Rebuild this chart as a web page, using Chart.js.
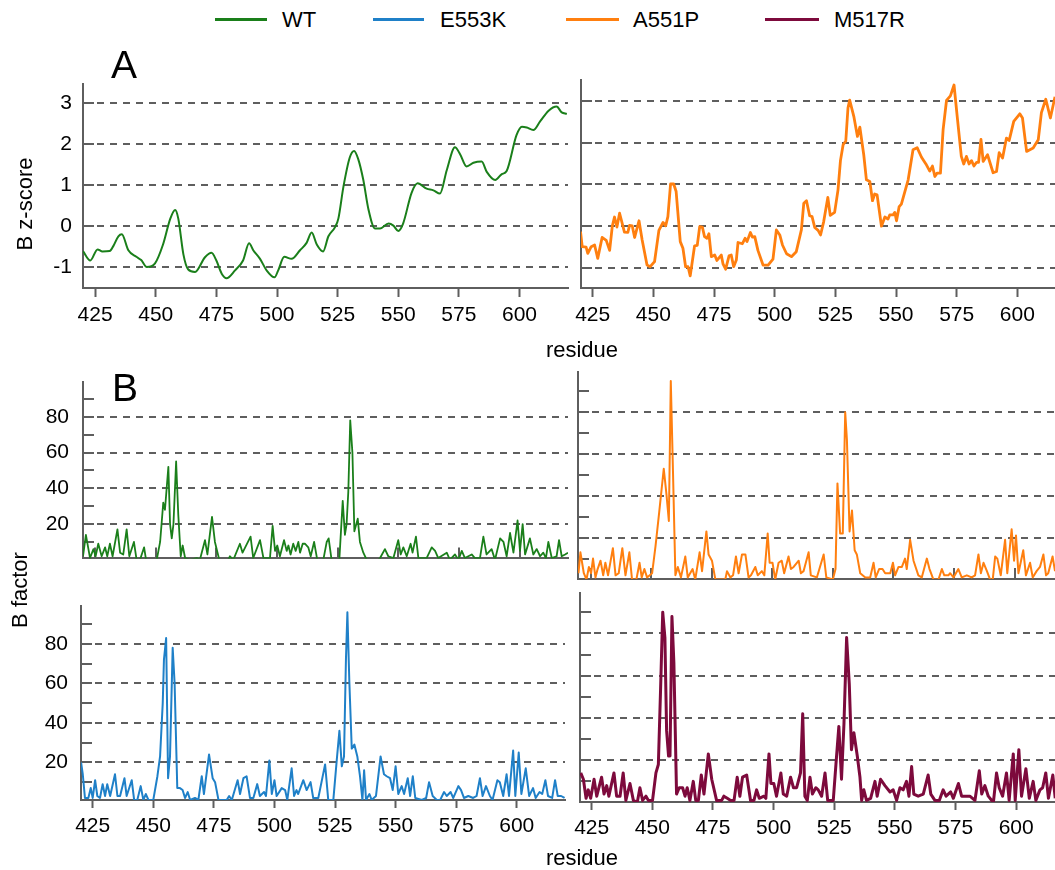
<!DOCTYPE html>
<html><head><meta charset="utf-8">
<script src="https://cdn.jsdelivr.net/npm/chart.js@4.4.1/dist/chart.umd.min.js"></script>
<style>
html,body{margin:0;padding:0;background:#fff;width:1055px;height:870px;overflow:hidden;position:relative;font-family:'Liberation Sans',Arial,sans-serif;}
canvas{position:absolute;}
.t{position:absolute;font-size:22px;line-height:22px;color:#000;white-space:nowrap;}
.ln{position:absolute;height:3px;}
.big{position:absolute;font-size:39px;line-height:39px;color:#000;}
</style></head><body>
<canvas id="cA1" width="575" height="290" style="left:0;top:60px"></canvas>
<canvas id="cA2" width="495" height="290" style="left:560px;top:60px"></canvas>
<canvas id="cB1" width="575" height="230" style="left:0;top:355px"></canvas>
<canvas id="cB2" width="495" height="230" style="left:560px;top:355px"></canvas>
<canvas id="cB3" width="575" height="290" style="left:0;top:580px"></canvas>
<canvas id="cB4" width="495" height="290" style="left:560px;top:580px"></canvas>

<div class="ln" style="left:215px;top:18px;width:52px;background:#1a7f1a"></div><div class="t" style="left:282px;top:9px">WT</div>
<div class="ln" style="left:373px;top:18px;width:51px;background:#1f80c8"></div><div class="t" style="left:440px;top:9px">E553K</div>
<div class="ln" style="left:566px;top:18px;width:53px;background:#ff7f0f"></div><div class="t" style="left:633px;top:9px">A551P</div>
<div class="ln" style="left:765px;top:18px;width:54px;background:#7d0a3c"></div><div class="t" style="left:834px;top:9px">M517R</div>

<div class="big" style="left:111px;top:45px">A</div>
<div class="big" style="left:112px;top:368px">B</div>
<div class="t" style="left:25px;top:204px;transform:translate(-50%,-50%) rotate(-90deg)">B z-score</div>
<div class="t" style="left:20px;top:590px;transform:translate(-50%,-50%) rotate(-90deg)">B factor</div>
<div class="t" style="left:582px;top:339px;transform:translateX(-50%)">residue</div>
<div class="t" style="left:582px;top:847px;transform:translateX(-50%)">residue</div>

<script>
// ---- tick labels ----
const residueTicks = [425, 450, 475, 500, 525, 550, 575, 600];
const zTicks = [-1, 0, 1, 2, 3];
const bTicks = [20, 40, 60, 80];
const bMinorTicks = [10, 30, 50, 70, 90];

// ---- series: [residue, value] ----
const wtZscore = [[420,-0.60],[423,-0.83],[426,-0.56],[428,-0.61],[431,-0.60],[432.5,-0.48],[434.6,-0.24],[436,-0.19],[438.7,-0.58],[442,-0.74],[444,-0.82],[446.3,-0.99],[449.7,-0.90],[453,-0.44],[456,0.19],[458,0.40],[459.3,0.19],[461.4,-0.68],[463.4,-1.05],[466.2,-1.11],[470.3,-0.75],[473,-0.64],[475,-0.83],[477.2,-1.15],[479.2,-1.26],[482.7,-1.07],[486,-0.83],[488.5,-0.41],[490.2,-0.58],[493,-0.79],[495.7,-1.07],[499,-1.24],[500.5,-1.07],[503,-0.74],[506,-0.79],[509.5,-0.58],[512.2,-0.40],[514.3,-0.15],[516.4,-0.44],[519,-0.61],[521.2,-0.24],[524,-0.01],[525.3,0.19],[527.4,0.97],[530,1.68],[531.8,1.84],[533.5,1.64],[535.6,1.13],[537.7,0.42],[540.4,-0.05],[542.5,-0.05],[546,0.07],[548,0.02],[550,-0.11],[552,0.07],[555.5,0.82],[558,1.05],[561.7,0.92],[564.5,0.88],[567.2,0.80],[570,1.37],[573.4,1.93],[575.5,1.76],[578.2,1.46],[581,1.55],[584.4,1.58],[586.5,1.33],[590,1.13],[592.6,1.27],[594.7,1.35],[598.8,2.23],[601,2.43],[603,2.41],[605.7,2.35],[608.5,2.56],[612,2.82],[615.3,2.92],[617.4,2.78],[619.5,2.74]];

const a551pZscore = [[420,-0.13],[420.7,-0.49],[422.3,-0.5],[423,-0.65],[424.4,-0.49],[425.8,-0.45],[427.1,-0.77],[428.9,-0.27],[430.6,-0.34],[432,-0.58],[433.1,0],[434,0.22],[435,-0.02],[436.1,0.31],[438.1,-0.14],[439.5,-0.15],[440.2,0.02],[441.3,0.01],[442.3,-0.27],[444.1,0.13],[445.4,-0.33],[447.4,-0.93],[448.7,-0.97],[450.5,-0.85],[452.3,-0.10],[454,0.09],[455.1,0.01],[456,0.23],[457.1,1.01],[458.4,1.01],[459.4,0.83],[461.1,-0.37],[462.2,-0.53],[463.3,-0.97],[464.3,-0.97],[465.2,-1.19],[467,-0.47],[468.1,-0.46],[469.1,-0.01],[470.2,-0.02],[471.1,-0.25],[472.1,-0.29],[472.9,-0.18],[473.9,-0.73],[475.3,-0.69],[476.2,-0.82],[478,-0.69],[478.7,-0.90],[479.8,-1.03],[481.2,-0.71],[482.1,-0.69],[483.1,-0.97],[484.2,-0.81],[484.9,-0.39],[486.7,-0.42],[487.8,-0.29],[488.6,-0.37],[490,-0.15],[490.8,-0.26],[491.8,-0.25],[493.1,-0.58],[495.2,-0.93],[497.3,-0.93],[499.3,-0.79],[500.7,-0.09],[502.1,-0.21],[503.2,-0.45],[504.9,-0.66],[506.9,-0.73],[508.9,-0.61],[511,-0.09],[512,0.55],[513.1,0.61],[514.4,0.25],[515.4,0.23],[516.5,-0.03],[517.9,-0.10],[518.9,-0.21],[520.2,0.11],[521.9,0.69],[522.9,0.26],[524.7,0.33],[526.1,0.87],[527.1,1.57],[528.2,1.95],[529.3,2.04],[530.2,2.83],[530.9,3.02],[532.6,2.63],[534.1,2.15],[535.1,2.37],[536.7,1.71],[537.8,1.11],[539.2,1.07],[540.3,0.61],[541.2,0.77],[542.2,0.75],[544,0],[545.4,0.22],[546.7,0.17],[547.4,0.27],[548.8,0.27],[549.5,0.33],[550.2,0.13],[551.3,0.47],[552.2,0.53],[555,1.11],[557,1.83],[558.7,1.88],[560.5,1.65],[562.3,1.49],[563.9,1.32],[565,1.44],[566,1.19],[566.9,1.27],[568.3,1.27],[569.4,2.31],[570.8,3.01],[572.4,3.12],[573.9,3.38],[575.2,2.63],[576.9,1.67],[577.9,1.49],[579,1.67],[580.1,1.49],[581.1,1.57],[582.1,1.44],[583.2,1.53],[584,1.53],[585,2.08],[585.9,1.55],[587.7,1.71],[590,1.28],[591.4,1.31],[592.5,1.76],[593.9,1.63],[595.5,2.11],[596.6,2.05],[598.5,2.51],[601,2.69],[602.1,2.59],[603.8,1.79],[606.5,1.87],[608.6,2.07],[609.9,2.72],[611.7,3.04],[613.6,2.59],[615.5,3.10],[617,2.9]];

const wtBfactor = [[420,2],[421.2,14],[422.9,1],[424.3,6],[425.2,2],[426.3,9],[427.7,2],[429.1,7],[430,2],[431.1,9],[432.2,2],[434.2,17],[435.3,4],[436.6,3],[438,17],[439.1,2],[441,10],[442.1,0],[443.5,0],[445.2,7],[446,0],[450.4,0],[451.8,10],[453.1,32],[453.8,28],[454.5,40],[455.2,52],[455.9,20],[456.6,12],[457.3,20],[458.4,55],[459.3,25],[460.3,2],[461.1,8],[462.1,1],[464.1,0],[466.9,1],[468.2,0],[470.3,11],[471.3,3],[473.2,24],[474.4,10],[476.2,0],[479.9,0],[480.6,2],[482,0],[484.7,9],[485.8,4],[489.1,13],[490.2,1],[493,11],[494.4,1],[497.1,1],[498.2,19],[499.2,5],[500.1,8],[501.2,2],[502.9,11],[504,5],[504.7,8],[505.6,3],[506.7,9],[507.7,5],[508.8,10],[509.5,4],[510.6,9],[511.5,9],[512.9,7],[513.9,2],[515.3,10],[516.6,0],[519.1,0],[520.5,10],[521.3,12],[522.5,0],[525.7,0],[527.1,33],[528,14],[528.7,20],[529.4,38],[530.2,78],[531.1,60],[531.9,16],[533.3,23],[534.2,10],[535.6,4],[537,0],[541.8,0],[542.5,1],[544.5,6],[545.9,2],[548,1],[550,11],[551,3],[552.1,7],[553.5,2],[555.1,9],[555.9,4],[557.3,13],[558.3,1],[561.7,1],[563.8,7],[565.2,5],[566.5,1],[570,4],[571.3,0],[573.4,3],[574.8,0],[576.2,5],[577.5,1],[580.3,3],[581.6,1],[583.7,1],[585.1,13],[586.4,3],[588.5,6],[589.9,0],[592,12],[593.4,10],[594.7,2],[596.1,15],[597.5,4],[599.2,22],[600.2,5],[601.3,20],[602.3,3],[604.3,12],[605.7,3],[607.1,6],[608.5,2],[609.8,4],[610.9,1],[611.9,10],[613.3,1],[615.3,2],[616.3,11],[617.4,2],[618.8,3],[620,4]];

const a551pBfactor = [[420,3],[420.8,13],[422.2,3],[423.3,0],[424.3,6],[425.2,3],[426,10],[427,1],[427.9,5],[429.1,9],[430.2,2],[431.1,8],[432.2,2],[434.2,15],[435.3,2],[436.6,3],[438.1,15],[439.4,2],[441,13],[442.1,0],[443.9,0],[445.2,8],[446.1,1],[447.2,5],[448.3,1],[450.4,3],[451.8,16],[453.3,32],[455.2,53],[456.3,41],[457.3,28],[458.1,95],[459,52],[460,2],[461,6],[462.3,1],[464.1,11],[465.1,1],[467.1,5],[468.2,0],[470,13],[471,4],[472.8,23],[473.7,12],[475.1,9],[476.5,0],[480.6,0],[481.3,4],[482.7,1],[483.8,2],[485,11],[486.1,3],[487.5,12],[488.9,12],[490.2,1],[491.2,2],[493,6],[494,2],[495.7,4],[496.7,2],[498.1,22],[498.9,8],[500.1,8],[501.2,0],[502.6,8],[503.9,9],[504.9,3],[506.7,11],[507.7,5],[508.8,6],[510.9,9],[511.8,3],[512.9,4],[515,13],[515.9,2],[518.4,1],[521.2,12],[522.3,1],[525,0],[526.1,5],[526.9,46],[528,22],[529.1,22],[530.1,80],[530.8,67],[531.9,23],[532.9,33],[534,14],[534.9,12],[536.3,3],[538.4,1],[540.4,1],[541.8,8],[542.7,1],[544.1,5],[545.5,5],[546.6,3],[548.7,3],[549.8,8],[550.7,2],[552.1,6],[553.5,6],[554.8,10],[555.5,5],[556.9,19],[558.3,9],[560.3,2],[561.7,1],[563.8,10],[564.9,5],[566.5,0],[568.6,0],[570,5],[571,2],[572.7,2],[573.4,3],[574.8,1],[576.8,5],[578.2,1],[580.3,2],[582.3,1],[583.7,2],[585.1,12],[586.1,3],[587.2,8],[588.6,4],[589.9,0],[591,0],[592,11],[592.9,10],[594.3,2],[596.1,19],[597,3],[598.8,24],[599.8,9],[600.6,21],[601.6,3],[603.6,14],[604.7,2],[606.4,8],[607.5,1],[609.1,4],[610.5,6],[611.9,12],[613,2],[613.9,3],[615.7,11],[616.7,4]];

const e553kBfactor = [[420.2,20],[420.9,14],[421.8,2],[423.2,2],[424.2,7],[425,2],[426,11],[426.9,3],[428,2],[429.1,9],[430.1,3],[431,9],[432.2,3],[434.2,14],[435.2,3],[436.3,3],[438.1,12],[439,3],[441.1,11],[442.1,1],[443.4,1],[444.8,8],[445.9,1],[446.9,4],[448,1],[450,1],[451.7,13],[452.8,23],[453.9,50],[454.4,72],[455.3,83],[456.1,12],[456.9,23],[458,78],[458.8,60],[459.9,7],[461,7],[462.1,6],[463.1,2],[464.2,5],[465.2,1],[467.2,2],[468.6,1],[470,13],[470.9,4],[473,24],[474.5,12],[475.5,10],[476.9,1],[480.3,1],[481.3,3],[482.4,1],[484.8,11],[485.8,4],[487.2,12],[488.5,13],[489.9,2],[491.3,2],[492.9,9],[494,3],[495.7,5],[496.5,3],[497.9,21],[498.9,4],[500,11],[500.9,3],[503,7],[504.4,6],[505.3,1],[507.1,17],[508.1,3],[509.1,6],[509.8,4],[511.9,11],[513.3,6],[514.9,10],[516,2],[518.1,2],[520.9,19],[522.2,1],[524.3,1],[525.7,21],[526.8,36],[527.8,18],[528.7,23],[529.5,72],[530.1,96],[530.9,61],[531.9,27],[533,29],[534.2,23],[535.3,13],[536.3,1],[537,16],[537.8,1],[539.2,4],[540.1,1],[541.9,3],[543.8,23],[545.2,14],[546.3,13],[547.7,12],[548.8,6],[550,18],[551.1,4],[552.5,8],[553.5,4],[555,12],[556,3],[557.1,13],[558.1,2],[560.8,1],[562.6,2],[563.8,10],[565.3,3],[567,1],[568.4,1],[570,5],[571.1,3],[572.7,5],[573.8,2],[575.9,8],[577,6],[578.2,2],[580,3],[582,2],[583.4,3],[584.8,12],[585.9,3],[587.3,8],[588.9,3],[590,1],[592,11],[593,10],[594.4,3],[595.8,14],[596.8,3],[598.5,26],[599.4,3],[600.8,25],[601.9,4],[603.7,17],[605.1,3],[606.7,7],[607.8,2],[609.4,5],[610.5,4],[611.8,11],[612.9,3],[614.6,2],[615.8,11],[616.9,3],[618.3,3],[619.7,2]];

const m517rBfactor = [[420.5,14],[421.6,11],[422.7,2],[423.6,6],[424.6,2],[426,11],[427.1,3],[429.1,12],[430.1,4],[431.2,8],[432.1,3],[434.2,14],[435.3,3],[436.7,3],[438,14],[439.1,1],[440.8,9],[442.2,1],[443.8,0],[444.9,7],[446,1],[447.4,3],[448.4,1],[450.1,1],[451.5,14],[452.5,18],[453.4,53],[454.3,90],[455.2,78],[455.9,34],[456.7,22],[457.3,22],[458.1,88],[458.9,66],[460,4],[461.1,7],[462.5,7],[463.5,3],[464.4,7],[465.5,1],[466.9,10],[467.9,1],[469,1],[470.2,13],[471.3,4],[473.1,23],[474.5,11],[476.5,1],[478.6,1],[479.5,3],[480.9,2],[482.3,1],[483.7,1],[485,12],[486.1,3],[487.2,12],[488.9,13],[490.5,1],[491.9,1],[493,6],[494.1,2],[496,3],[496.8,2],[498.1,23],[498.9,9],[500.1,9],[501.2,3],[503,14],[504,4],[505.4,3],[507,12],[508.2,7],[509.5,7],[511.1,14],[512,42],[512.9,3],[513.9,1],[515,12],[516,4],[517.4,7],[518.4,6],[519.8,3],[521.2,14],[522.3,1],[524.6,1],[525.7,18],[526.9,36],[528,11],[529,37],[530.1,78],[531.2,56],[532.1,25],[533.1,33],[534.5,22],[535.6,12],[536.3,1],[537.2,6],[538.3,1],[540,2],[541.8,10],[542.7,3],[544.1,11],[545.9,8],[548,5],[549.3,6],[550.7,1],[552.1,7],[553.4,6],[554.8,10],[555.8,3],[556.9,17],[557.8,4],[559.6,3],[561.7,4],[563.7,13],[564.8,4],[566.5,1],[568.3,1],[569.9,6],[571.1,3],[573,5],[574.1,2],[576.2,9],[577.5,3],[578.9,3],[580.9,3],[583,1],[584.8,15],[585.8,4],[587.1,8],[588.5,3],[590.6,0],[591.9,14],[593,7],[594.4,3],[596,14],[597.1,1],[598.8,23],[599.6,1],[601.1,25],[602.2,3],[604,16],[605.4,2],[607,10],[608.1,1],[609.8,6],[610.9,7],[612.2,14],[613.3,2],[615.1,13],[616.1,2]];

// ---- colours ----
const C_WT = '#1a7f1a', C_E553K = '#1f80c8', C_A551P = '#ff7f0f', C_M517R = '#7d0a3c';
const AX = '#5e5e5e';

Chart.defaults.font.family = "'Liberation Sans', Arial, sans-serif";
Chart.defaults.font.size = 21;
Chart.defaults.color = '#000';

const innerTicks = {
  id: 'innerTicks',
  beforeDatasetsDraw(chart, args, opts) {
    const {ctx, chartArea, scales} = chart;
    ctx.save();
    ctx.strokeStyle = AX;
    ctx.lineWidth = 2;
    ctx.setLineDash([]);
    (opts.yv || []).forEach(v => {
      const py = Math.round(scales.y.getPixelForValue(v));
      ctx.beginPath(); ctx.moveTo(chartArea.left, py); ctx.lineTo(chartArea.left + opts.len, py); ctx.stroke();
    });
    (opts.xv || []).forEach(v => {
      const px = Math.round(scales.x.getPixelForValue(v));
      ctx.beginPath(); ctx.moveTo(px, chartArea.bottom); ctx.lineTo(px, chartArea.bottom - opts.len); ctx.stroke();
    });
    ctx.restore();
  }
};

function panel(id, c) {
  const datasets = c.series.map(s => ({
    data: s.data.map(p => ({x: p[0], y: p[1]})),
    borderColor: s.color, borderWidth: s.width, pointRadius: 0,
    tension: s.smooth ? 0.4 : 0,
    cubicInterpolationMode: s.smooth ? 'monotone' : 'default',
    fill: false, borderJoinStyle: 'round'
  }));
  new Chart(document.getElementById(id), {
    type: 'line',
    data: {datasets},
    options: {
      responsive: false, animation: false, devicePixelRatio: 1,
      layout: {padding: {top: c.padTop, right: c.padRight, left: 0, bottom: 0}},
      plugins: {
        legend: {display: false}, tooltip: {enabled: false},
        innerTicks: {yv: c.yTicks.concat(c.yMinor || []), xv: c.innerX ? residueTicks : [], len: 11}
      },
      scales: {
        x: {
          type: 'linear', min: c.xMin, max: c.xMax,
          afterBuildTicks: s => { s.ticks = residueTicks.map(v => ({value: v})); },
          afterFit: s => { s.height = c.xH; },
          ticks: {display: c.xLabels, padding: c.xPad || 6, maxRotation: 0, autoSkip: false, font: {size: 21}, color: '#000'},
          grid: {display: c.xLabels, drawOnChartArea: false, drawTicks: true, tickLength: c.xTL || 9, tickColor: AX, tickWidth: 2, color: AX},
          border: {display: true, color: AX, width: 2}
        },
        y: {
          min: c.yMin, max: c.yMax,
          afterBuildTicks: s => { s.ticks = c.yTicks.map(v => ({value: v})); },
          afterFit: s => { s.width = c.yW; },
          ticks: {display: c.yLabels, padding: c.yPad || 11, font: {size: 21}, color: '#000'},
          grid: {drawOnChartArea: true, drawTicks: false, color: AX, lineWidth: 2},
          border: {display: true, color: AX, width: 2, dash: [7, 6]}
        }
      }
    },
    plugins: [innerTicks]
  });
}

panel('cA1', {yW: 83, padTop: 17, padRight: 7, xH: 62, xMin: 420, xMax: 620, yMin: -1.5, yMax: 3.48,
  yTicks: zTicks, yLabels: true, yPad: 11, xLabels: true, xTL: 9, xPad: 6,
  series: [{data: wtZscore, color: C_WT, width: 2, smooth: true}]});
panel('cA2', {yW: 21, padTop: 20, padRight: 0, xH: 62, xMin: 420.2, xMax: 615.5, yMin: -1.48, yMax: 3.5,
  yTicks: zTicks, yLabels: false, xLabels: true, xTL: 9, xPad: 6,
  series: [{data: a551pZscore, color: C_A551P, width: 2.8}]});
panel('cB1', {yW: 83, padTop: 14, padRight: 7, xH: 5, xMin: 420, xMax: 620, yMin: 0.8, yMax: 99.7,
  yTicks: bTicks, yMinor: bMinorTicks, yLabels: true, yPad: 14, xLabels: false, innerX: true,
  series: [{data: wtBfactor, color: C_WT, width: 1.8}]});
panel('cB2', {yW: 18, padTop: 17, padRight: 0, xH: 6, xMin: 419.8, xMax: 616.7, yMin: 0.24, yMax: 99.3,
  yTicks: bTicks, yMinor: bMinorTicks, yLabels: false, xLabels: false, innerX: true,
  series: [{data: a551pBfactor, color: C_A551P, width: 2}]});
panel('cB3', {yW: 81, padTop: 8, padRight: 10, xH: 70, xMin: 420.17, xMax: 619.9, yMin: 0.97, yMax: 99.4,
  yTicks: bTicks, yMinor: bMinorTicks, yLabels: true, yPad: 13, xLabels: true, xTL: 8, xPad: 6,
  series: [{data: e553kBfactor, color: C_E553K, width: 2}]});
panel('cB4', {yW: 20, padTop: 13, padRight: 0, xH: 68, xMin: 420.2, xMax: 616, yMin: 0.25, yMax: 99.1,
  yTicks: bTicks, yMinor: bMinorTicks, yLabels: false, xLabels: true, xTL: 8, xPad: 6,
  series: [{data: m517rBfactor, color: C_M517R, width: 3}]});
</script>
</body></html>
